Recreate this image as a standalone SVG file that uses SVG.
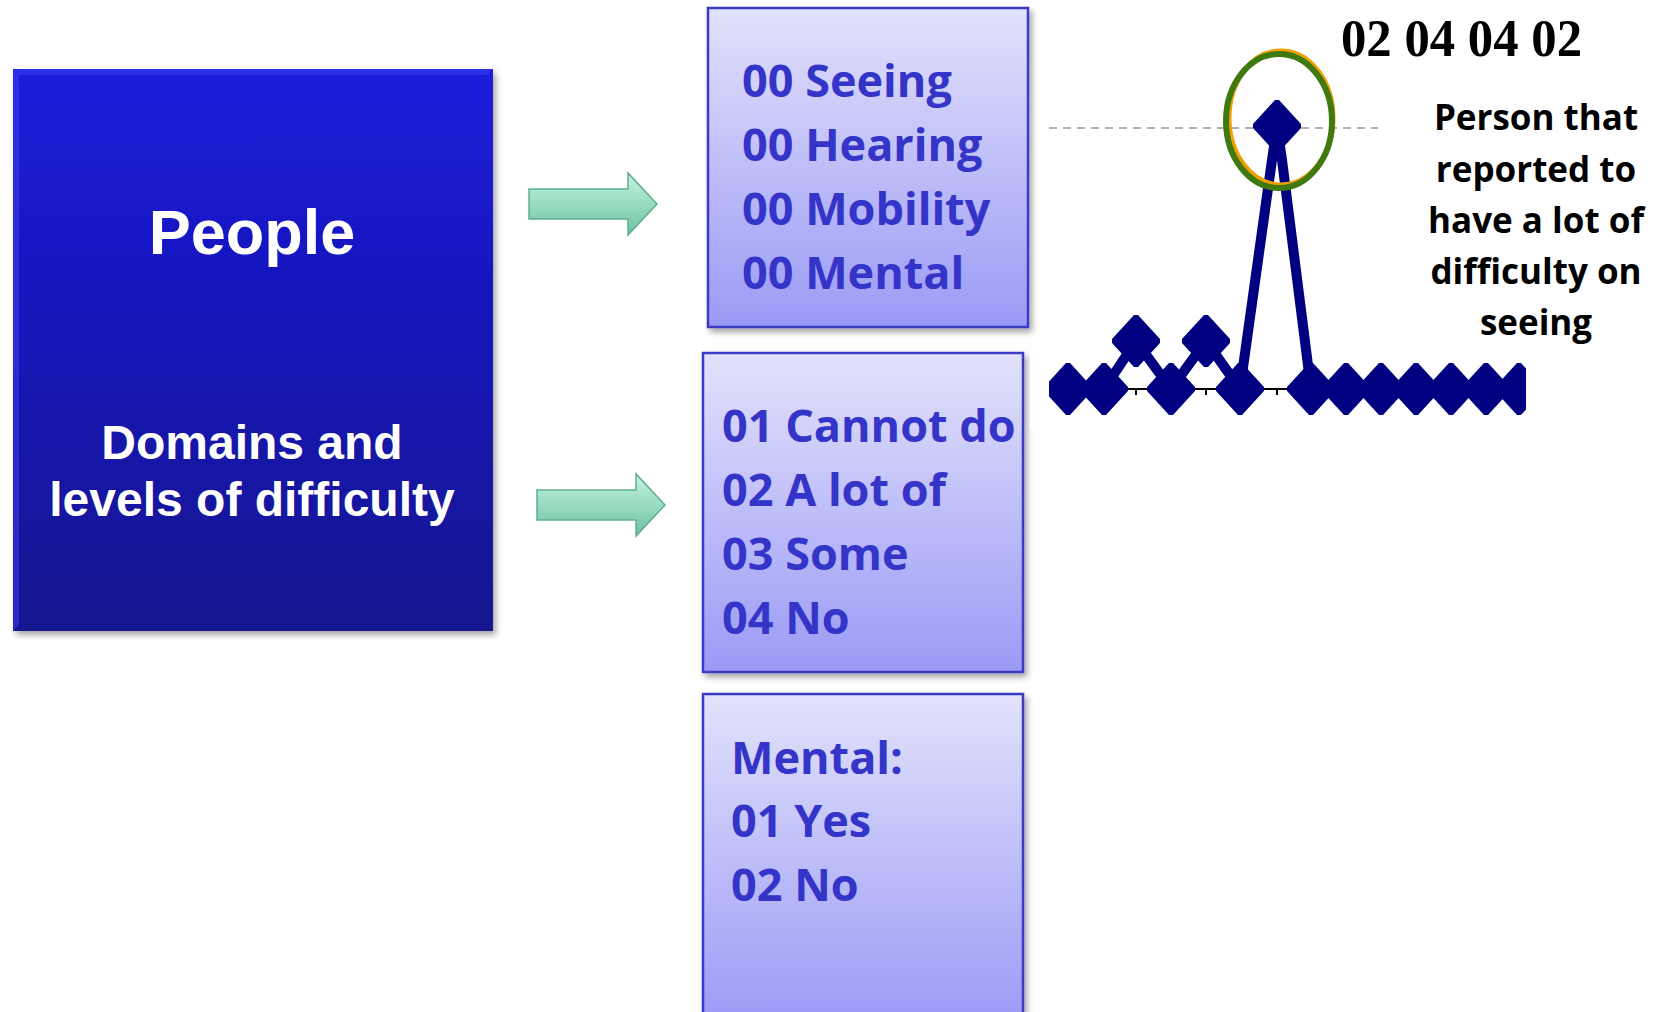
<svg xmlns="http://www.w3.org/2000/svg" width="1662" height="1012" viewBox="0 0 1662 1012">
<style>
.bw{font-family:"Liberation Sans",Arial,sans-serif;font-weight:bold;fill:#ffffff;text-anchor:middle}
.lt{font-family:"Open Sans","Noto Sans",sans-serif;font-weight:bold;fill:#3434c8;font-size:45px}
.note{font-family:"Open Sans","Noto Sans",sans-serif;font-weight:bold;fill:#000000;font-size:35px;text-anchor:middle}
.lbox{fill:url(#lg);stroke:#3a3ac4;stroke-width:2.5}
.arr{fill:url(#ag);stroke:#5fae92;stroke-width:1.5}
.ser{fill:none;stroke:#000080;stroke-width:10;stroke-linejoin:round}
</style>
<defs>
<linearGradient id="bg" x1="0" y1="0" x2="0" y2="1">
<stop offset="0" stop-color="#1c1cdc"/>
<stop offset="1" stop-color="#12128f"/>
</linearGradient>
<linearGradient id="lg" x1="0" y1="0" x2="0" y2="1">
<stop offset="0" stop-color="#e2e2fb"/>
<stop offset="1" stop-color="#9a9af6"/>
</linearGradient>
<linearGradient id="ag" x1="0" y1="0" x2="0" y2="1">
<stop offset="0" stop-color="#c4f2e0"/>
<stop offset="0.5" stop-color="#98dcc0"/>
<stop offset="1" stop-color="#6fbfa0"/>
</linearGradient>
<path id="arrow" d="M0,-15 H99 V-31 L128,0 L99,31 V15 H0 Z"/>
<path id="dm" d="M-2,-26 L2,-26 L24,-2 L24,2 L2,26 L-2,26 L-24,2 L-24,-2 Z" fill="#000080"/>
<filter id="sh" x="-5%" y="-5%" width="112%" height="112%">
<feGaussianBlur in="SourceAlpha" stdDeviation="3"/>
<feOffset dx="3" dy="4"/>
<feComponentTransfer><feFuncA type="linear" slope="0.35"/></feComponentTransfer>
<feMerge><feMergeNode/><feMergeNode in="SourceGraphic"/></feMerge>
</filter>
</defs>
<rect width="1662" height="1012" fill="#ffffff"/>

<g id="people">
<rect x="13" y="69" width="480" height="562" fill="url(#bg)" filter="url(#sh)"/>
<path d="M13,69 H493 L487,75 H19 V625 L13,631 Z" fill="#3a3aee" opacity="0.6"/>
<text class="bw" x="252" y="254" font-size="63">People</text>
<text class="bw" x="252" y="459" font-size="48">Domains and</text>
<text class="bw" x="252" y="516" font-size="48">levels of difficulty</text>
</g>

<g id="connectors">
<use href="#arrow" class="arr" x="529" y="204"/>
<use href="#arrow" class="arr" x="537" y="505"/>
</g>

<g id="domains">
<rect class="lbox" x="708" y="8" width="320" height="319" filter="url(#sh)"/>
<text class="lt" x="742" y="97">00 Seeing</text>
<text class="lt" x="742" y="161">00 Hearing</text>
<text class="lt" x="742" y="225">00 Mobility</text>
<text class="lt" x="742" y="289">00 Mental</text>
</g>

<g id="levels">
<rect class="lbox" x="703" y="353" width="320" height="319" filter="url(#sh)"/>
<text class="lt" x="722" y="442">01 Cannot do</text>
<text class="lt" x="722" y="506">02 A lot of</text>
<text class="lt" x="722" y="570">03 Some</text>
<text class="lt" x="722" y="634">04 No</text>
</g>

<g id="mental">
<rect class="lbox" x="703" y="694" width="320" height="330" filter="url(#sh)"/>
<text class="lt" x="731" y="774">Mental:</text>
<text class="lt" x="731" y="837">01 Yes</text>
<text class="lt" x="731" y="901">02 No</text>
</g>

<g id="chart">
<line x1="1049" y1="128" x2="1378" y2="128" stroke="#b0b0b0" stroke-width="2" stroke-dasharray="8,6"/>
<line x1="1068" y1="389" x2="1526" y2="389" stroke="#000" stroke-width="2"/>
<path d="M1136,389 v6 M1206,389 v6 M1277,389 v6" stroke="#000" stroke-width="2"/>
<polyline class="ser" points="1068,389 1104,389 1136,341 1171,389 1206,341 1240,389 1272,160 1277,126 1282,160 1311,389 1346,389 1381,389 1416,389 1451,389 1486,389 1520,389"/>
<use href="#dm" x="1068" y="389"/>
<use href="#dm" x="1104" y="389"/>
<use href="#dm" x="1136" y="341"/>
<use href="#dm" x="1171" y="389"/>
<use href="#dm" x="1206" y="341"/>
<use href="#dm" x="1240" y="389"/>
<use href="#dm" x="1277" y="126"/>
<use href="#dm" x="1311" y="389"/>
<use href="#dm" x="1346" y="389"/>
<use href="#dm" x="1381" y="389"/>
<use href="#dm" x="1416" y="389"/>
<use href="#dm" x="1451" y="389"/>
<use href="#dm" x="1486" y="389"/>
<use href="#dm" x="1519" y="389"/>
<rect x="1526" y="350" width="40" height="80" fill="#ffffff"/>
<rect x="1030" y="350" width="19" height="80" fill="#ffffff"/>
<ellipse cx="1281" cy="118" rx="52" ry="67" fill="none" stroke="#f0a000" stroke-width="5"/>
<ellipse cx="1279" cy="121" rx="53" ry="67" fill="none" stroke="#3f7a10" stroke-width="6"/>
<text x="1341" y="56" font-family="Liberation Serif,serif" font-weight="bold" font-size="52" textLength="241" lengthAdjust="spacingAndGlyphs">02 04 04 02</text>
</g>

<g id="note">
<text class="note" x="1536" y="130">Person that</text>
<text class="note" x="1536" y="182">reported to</text>
<text class="note" x="1536" y="233">have a lot of</text>
<text class="note" x="1536" y="284">difficulty on</text>
<text class="note" x="1536" y="335">seeing</text>
</g>
</svg>
